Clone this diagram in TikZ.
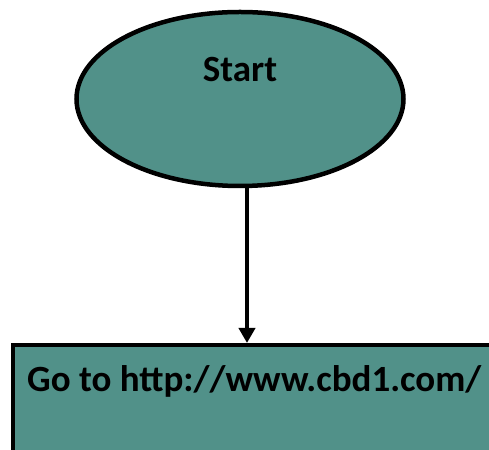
\documentclass[tikz,border=0pt]{standalone}
\usepackage{fontspec}
\setmainfont{Carlito}
\usetikzlibrary{shapes.geometric,arrows.meta}
\definecolor{tealfill}{RGB}{81,145,137}
\tikzset{
  startshape/.style={ellipse, draw=black, line width=4.5pt, fill=tealfill, minimum width=327pt, minimum height=174pt, inner sep=0pt},
  boxshape/.style={draw=black, line width=4.5pt, fill=tealfill},
  lbl/.style={font=\fontsize{37}{44}\selectfont\bfseries, inner sep=0pt},
  arr/.style={line width=3.8pt, -{Triangle[width=16pt,length=15pt]}}
}
\begin{document}
\begin{tikzpicture}[x=1pt,y=1pt]
\useasboundingbox (0,0) rectangle (489,449);
\clip (0,0) rectangle (489,449);
\node[startshape] (start) at (240,350) {};
\node[lbl, anchor=base] (starttext) at (240,367) {Start};
\draw[boxshape] (13,104) rectangle (540,-30);
\coordinate (boxtop) at (247,106);
\coordinate (arrstart) at (247,263);
\node[lbl, anchor=base west] (boxtext) at (27,57) {Go to http://www.cbd1.com/};
\draw[arr] (arrstart) -- (boxtop);
\end{tikzpicture}
\end{document}
